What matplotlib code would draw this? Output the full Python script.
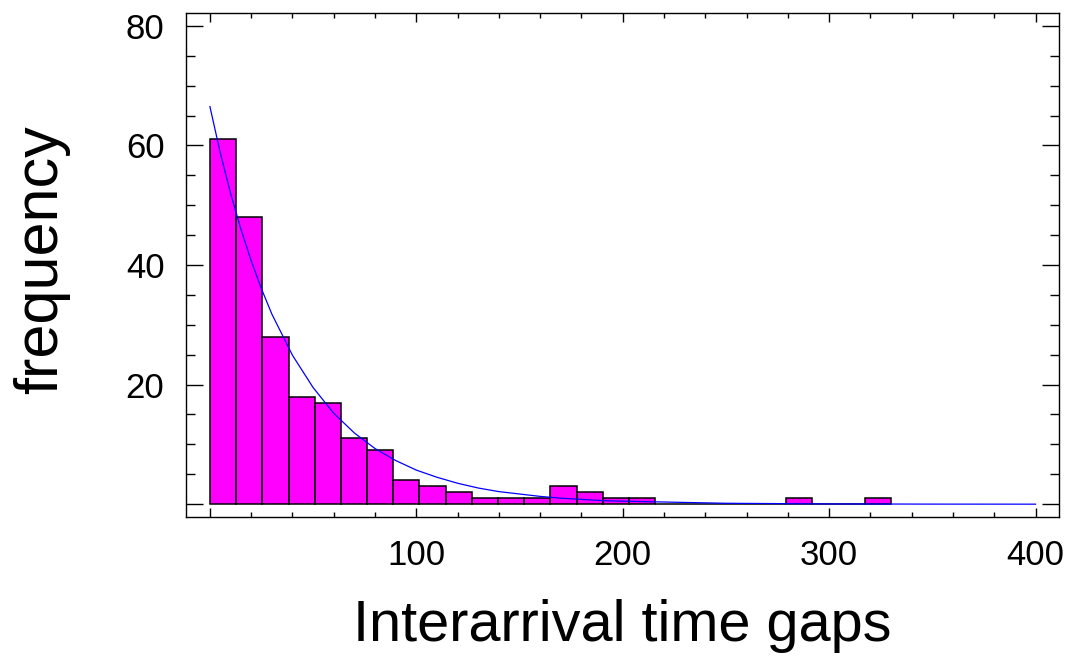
import numpy as np
import matplotlib
matplotlib.use('Agg')
import matplotlib.pyplot as plt
from matplotlib.ticker import MultipleLocator

# histogram counts, 26 classes from 0 to 330
bin_lo = 0.0
bin_hi = 330.0
counts = [61, 48, 28, 18, 17, 11, 9, 4, 3, 2, 1, 1, 1, 3, 2, 1, 1,
          0, 0, 0, 0, 0, 1, 0, 0, 1]

# fitted exponential curve
fit_x = [0, 5, 10, 15, 20, 25, 30, 40, 50, 60, 70, 80, 90, 100, 110, 120,
         130, 140, 150, 160, 170, 180, 190, 200, 250, 300, 350, 400]
fit_y = [66.5, 58.8, 52.0, 46.0, 40.7, 36.0, 31.8, 24.9, 19.5, 15.2, 11.9,
         9.3, 7.3, 5.7, 4.5, 3.5, 2.7, 2.1, 1.7, 1.3, 1.0, 0.8, 0.6, 0.5,
         0.15, 0.04, 0.01, 0.0]

x_ticks = [0, 100, 200, 300, 400]
x_tick_labels = ['', '100', '200', '300', '400']
y_ticks = [0, 20, 40, 60, 80]
y_tick_labels = ['', '20', '40', '60', '80']

plt.rcParams['font.family'] = ['Liberation Sans', 'DejaVu Sans']

fig = plt.figure(figsize=(10.7, 6.57), dpi=100)
ax = fig.add_axes([0.1738, 0.2126, 0.8162, 0.7681])

edges = np.linspace(bin_lo, bin_hi, len(counts) + 1)
ax.bar(edges[:-1], counts, width=np.diff(edges), align='edge',
       color='#ff00ff', edgecolor='black', linewidth=1.1, zorder=2)
ax.plot(fit_x, fit_y, color='#0000ff', lw=0.9, zorder=3)

ax.set_xlim(-11.6, 411.5)
ax.set_ylim(-2.2, 82.2)
ax.set_xticks(x_ticks, x_tick_labels)
ax.set_yticks(y_ticks, y_tick_labels)
ax.xaxis.set_minor_locator(MultipleLocator(20))
ax.yaxis.set_minor_locator(MultipleLocator(5))

ax.tick_params(which='both', direction='in', top=True, right=True,
               width=1.0, color='black', labelsize=25, pad=15.5)
ax.tick_params(axis='x', which='major', length=6.5)
ax.tick_params(axis='x', which='minor', length=3.4)
ax.tick_params(axis='y', which='major', length=12.2)
ax.tick_params(axis='y', which='minor', length=6.5)
for s in ax.spines.values():
    s.set_linewidth(1.0)

ax.set_xlabel('Interarrival time gaps', fontsize=41.5)
ax.set_ylabel('frequency', fontsize=44)
ax.xaxis.set_label_coords(0.5, -0.162)
ax.yaxis.set_label_coords(-0.133, 0.51)

fig.savefig('out.png', dpi=100)
